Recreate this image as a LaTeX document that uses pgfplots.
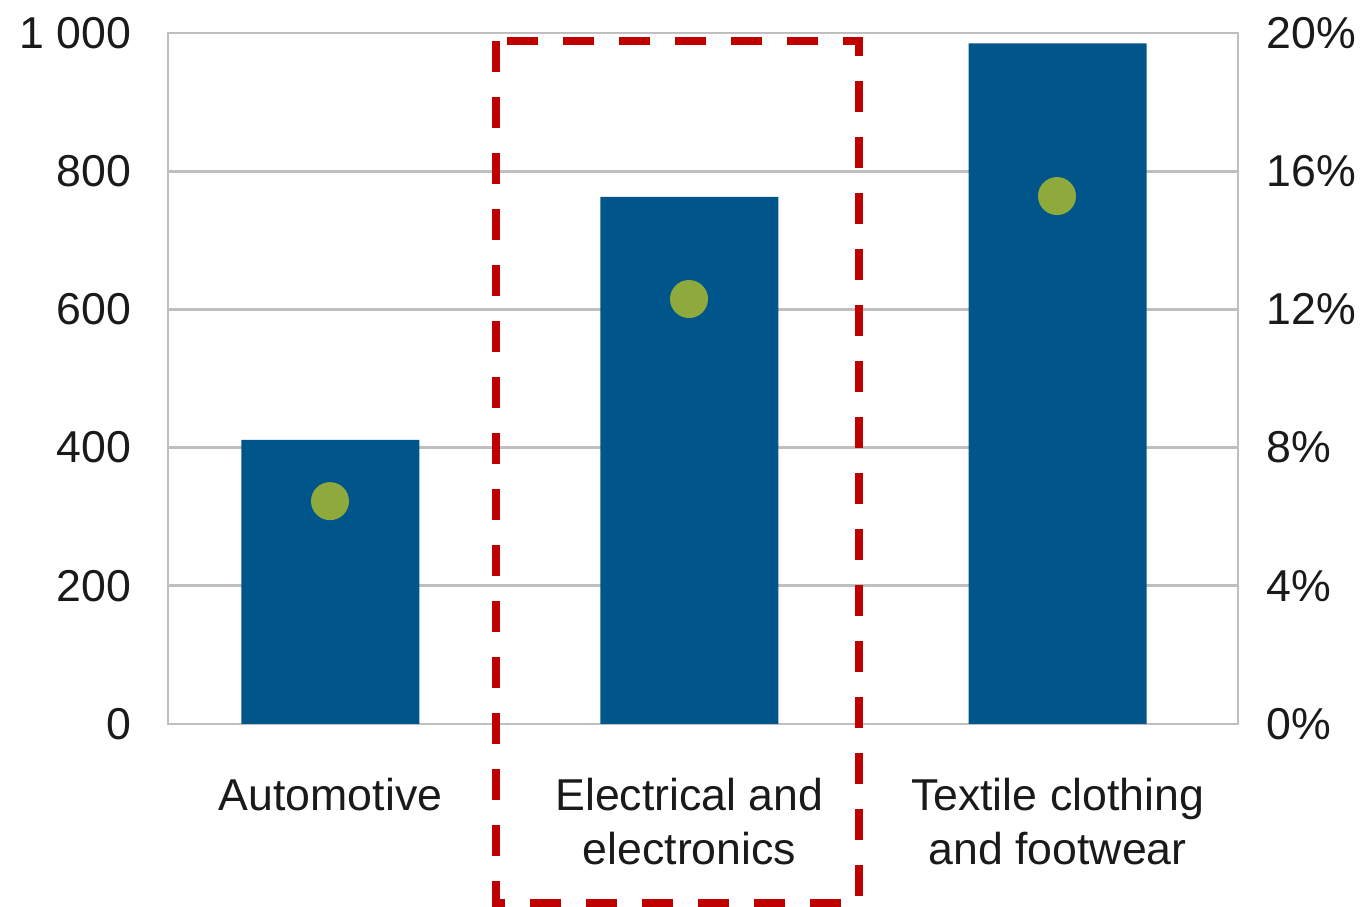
\documentclass[border=0pt]{standalone}
\usepackage{pgfplots}
\pgfplotsset{compat=1.18}
\usepackage{fontspec}
\setmainfont{Liberation Sans}
\definecolor{barblue}{HTML}{00558B}
\definecolor{dotgreen}{HTML}{8EAA3C}
\definecolor{boxred}{HTML}{C00000}
\definecolor{gridgray}{HTML}{BFBFBF}
\definecolor{txt}{HTML}{1A1A1A}
\begin{document}
\begin{tikzpicture}
\pgfplotsset{
  base/.style={
    at={(0,0)}, anchor=south west, scale only axis,
    width=321pt, height=207.3pt,
    xmin=0, xmax=1070,
    tick style={draw=none},
    axis line style={gridgray, line width=0.8pt},
    ticklabel style={font=\fontsize{13.4}{16.2}\selectfont, text=txt},
    /pgf/number format/assume math mode=true,
  }
}
\begin{axis}[base,
  ymin=0, ymax=1000,
  ytick={0,200,400,600,800,1000},
  yticklabels={0,200,400,600,800,1 000},
  yticklabel style={xshift=-7.5pt},
  ymajorgrids, grid style={gridgray, line width=0.8pt},
  xtick=data,
  xticklabels={Automotive, {Electrical and\\electronics}, {Textile clothing\\and footwear}},
  xticklabel style={align=center, yshift=-12.8pt},
]
\addplot[ybar, bar width=178, fill=barblue, draw=none] coordinates {(162.5,411) (521.5,763) (889.5,985)};
\end{axis}
\begin{axis}[base,
  ymin=0, ymax=20,
  axis y line*=right, axis x line=none,
  ytick={0,4,8,12,16,20},
  yticklabels={0\%,4\%,8\%,12\%,16\%,20\%},
  yticklabel style={anchor=west, xshift=5.1pt},
  clip=false,
]
\addplot[only marks, mark=*, mark size=5.5pt, color=dotgreen] coordinates {(162,6.45) (521,12.30) (889,15.28)};
\draw[boxred, line width=2.5pt, dash pattern=on 9.3pt off 7.5pt] (axis cs:328,19.77) rectangle (axis cs:691,-5.18);
\end{axis}
\pgfresetboundingbox
\path (-50.4pt,-54.9pt) rectangle (360pt,217.2pt);
\end{tikzpicture}
\end{document}
